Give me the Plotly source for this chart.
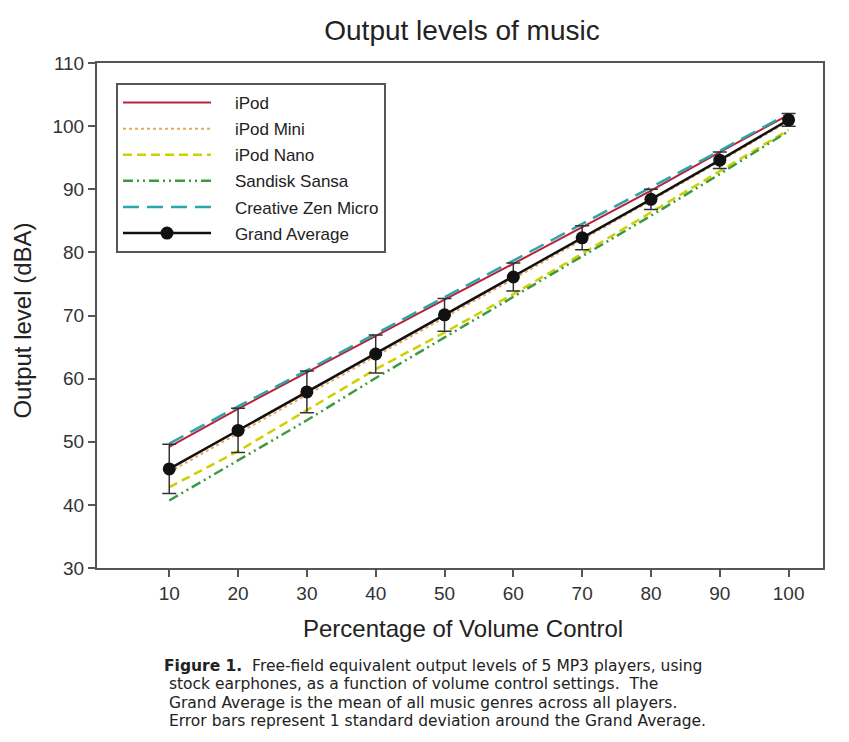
import plotly.graph_objects as go

volume = [10, 20, 30, 40, 50, 60, 70, 80, 90, 100]
ipod = [49.2, 55.2, 61.0, 66.8, 72.5, 78.2, 84.0, 89.8, 95.9, 101.8]
ipod_mini = [45.2, 51.3, 57.4, 63.5, 69.7, 75.8, 82.0, 88.2, 94.4, 100.8]
ipod_nano = [42.8, 48.5, 55.0, 61.5, 67.3, 73.4, 79.8, 86.3, 92.8, 99.4]
sandisk = [40.7, 47.0, 53.4, 60.1, 66.5, 72.9, 79.3, 85.8, 92.4, 99.2]
creative = [49.7, 55.6, 61.3, 67.1, 72.9, 78.6, 84.4, 90.2, 96.1, 102.0]
grand_avg = [45.7, 51.8, 57.9, 63.9, 70.1, 76.1, 82.3, 88.4, 94.6, 101.0]
grand_sd = [3.9, 3.5, 3.3, 3.0, 2.6, 2.2, 1.9, 1.6, 1.3, 1.0]

y_ticks = [30, 40, 50, 60, 70, 80, 90, 100, 110]

FONT = "Liberation Sans, Arial, sans-serif"
CAP_FONT = "DejaVu Sans, Liberation Sans, Arial, sans-serif"
PAD = "&nbsp;&nbsp;&nbsp;&nbsp;"

fig = go.Figure()
fig.add_trace(go.Scatter(x=volume, y=ipod, mode="lines", name=PAD + "iPod", legendgroup="a",
                         line=dict(color="#b8233a", width=2)))
fig.add_trace(go.Scatter(x=volume, y=ipod_mini, mode="lines", name=PAD + "iPod Mini", legendgroup="b",
                         line=dict(color="#e6a860", width=2, dash="dot")))
fig.add_trace(go.Scatter(x=volume, y=ipod_nano, mode="lines", name=PAD + "iPod Nano", legendgroup="c",
                         line=dict(color="#cfd000", width=2.5, dash="9px,5px")))
fig.add_trace(go.Scatter(x=volume, y=sandisk, mode="lines", name=PAD + "Sandisk Sansa", legendgroup="d",
                         line=dict(color="#3c9a40", width=2.5, dash="10px,4px,2px,4px,2px,4px")))
fig.add_trace(go.Scatter(x=volume, y=creative, mode="lines", name=PAD + "Creative Zen Micro", legendgroup="e",
                         line=dict(color="#2aa5a8", width=2.5, dash="16px,8px")))
fig.add_trace(go.Scatter(x=volume, y=grand_avg, mode="lines+markers", name=PAD + "Grand Average",
                         legendgroup="f",
                         line=dict(color="#111111", width=2.5),
                         marker=dict(color="#111111", size=13),
                         error_y=dict(type="data", array=grand_sd, visible=True,
                                      color="#333333", thickness=1.5, width=7)))

fig.update_layout(
    width=849, height=742,
    margin=dict(l=89, r=34, t=55, b=182),
    paper_bgcolor="white", plot_bgcolor="white",
    font=dict(family=FONT, color="#333333"),
    title=dict(text="Output levels of music", x=(459 - 8 + 3) / 849, xanchor="center",
               y=1 - 22 / 742, yanchor="middle", yref="container",
               font=dict(size=28, color="#222222", family=FONT)),
    showlegend=True,
    legend=dict(x=(115 - 96) / 726, y=(568 - 83) / 505, xanchor="left", yanchor="top",
                bordercolor="#555555", borderwidth=2, bgcolor="white",
                font=dict(size=17, color="#222222", family=FONT),
                itemwidth=88, tracegroupgap=1),
    xaxis=dict(range=[-0.5, 105], tickvals=volume, ticks="outside", ticklen=7,
               tickwidth=2, tickcolor="#555555", showline=True, linecolor="#555555",
               linewidth=2, mirror=True, showgrid=False, zeroline=False,
               tickfont=dict(size=19, color="#333333")),
    yaxis=dict(range=[30, 110], tickvals=y_ticks, ticks="outside", ticklen=7,
               tickwidth=2, tickcolor="#555555", showline=True, linecolor="#555555",
               linewidth=2, mirror=True, showgrid=False, zeroline=False,
               tickfont=dict(size=19, color="#333333")),
)

fig.add_annotation(text="Percentage of Volume Control", xref="paper", yref="paper",
                   x=(462 - 96) / 726, y=-60 / 505, xanchor="center", yanchor="middle",
                   showarrow=False, font=dict(size=24, color="#222222"))
fig.add_annotation(text="Output level (dBA)", xref="paper", yref="paper",
                   x=-74 / 726, y=0.49, xanchor="center", yanchor="middle",
                   textangle=-90, showarrow=False, font=dict(size=24, color="#222222"))

caption = [
    "<b>Figure 1.</b>  Free-field equivalent output levels of 5 MP3 players, using",
    "&nbsp;stock earphones, as a function of volume control settings.  The",
    "&nbsp;Grand Average is the mean of all music genres across all players.",
    "&nbsp;Error bars represent 1 standard deviation around the Grand Average.",
]
for i, line in enumerate(caption):
    fig.add_annotation(text=line,
                       xref="paper", yref="paper",
                       x=(162 - 96) / 726, y=(568 - (666 + 18.4 * i)) / 505,
                       xanchor="left", yanchor="middle", showarrow=False,
                       align="left", borderpad=0,
                       font=dict(size=15.5, color="#222222", family=CAP_FONT))

fig.write_html("out.html")
